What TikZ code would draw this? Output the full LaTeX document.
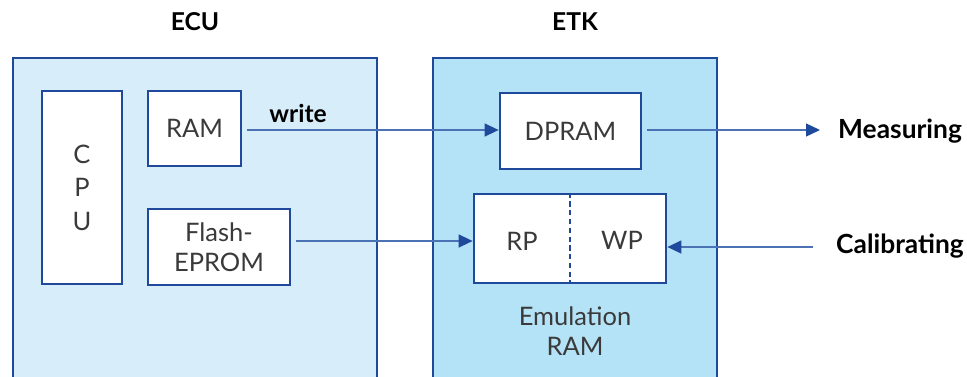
\documentclass[tikz,border=0pt]{standalone}
\usepackage{fontspec}
\setmainfont{Lato}
\usepackage{xcolor}
\usetikzlibrary{positioning,arrows.meta,calc}
\definecolor{frame}{HTML}{1F4A9B}
\definecolor{wire}{HTML}{4A72B5}
\definecolor{ecufill}{HTML}{D7EEFA}
\definecolor{etkfill}{HTML}{B4E3F7}
\definecolor{txt}{HTML}{3A3A3A}
\tikzset{
  unit/.style ={draw=frame, line width=1.3pt},
  blk/.style  ={draw=frame, fill=white, line width=1.6pt, inner sep=0pt, font=\fontsize{14.5}{17}\selectfont, text=txt, align=center},
  lbl/.style  ={font=\fontsize{14.5}{17}\selectfont, text=txt, align=center},
  head/.style ={font=\bfseries\fontsize{14}{17}\selectfont, text=black},
  side/.style ={font=\fontsize{15}{18}\selectfont\bfseries, text=black, anchor=west},
  flow/.style ={draw=wire, line width=0.8pt, -{Triangle[length=0.28cm,width=0.26cm,color=frame]}, shorten <=0.1cm},
}
\begin{document}
\begin{tikzpicture}[x=0.02cm,y=-0.02cm]
\useasboundingbox (0,0) rectangle (967,376);
\clip (0,0) rectangle (967,376);

% outer units
\fill[ecufill] (13,58) rectangle (377,400);
\fill[etkfill] (433,58) rectangle (717,400);
\draw[unit] (13,400) -- (13,58) -- (377,58) -- (377,400);
\draw[unit] (433,400) -- (433,58) -- (717,58) -- (717,400);
\node[head] (ecu) at (195,22) {ECU};
\node[head] (etk) at (575,22) {ETK};

% ECU blocks
\node[blk, minimum width=1.6cm, minimum height=3.86cm] (cpu) at (82,187.5) {C\\[2pt]P\\[2pt]U};
\node[blk, minimum width=1.86cm, minimum height=1.5cm] (ram) at (194.5,128.5) {RAM};
\node[blk, minimum width=2.84cm, minimum height=1.52cm] (flash) at (219,247) {Flash-\\EPROM};

% ETK blocks
\node[blk, minimum width=2.82cm, minimum height=1.52cm] (dpram) at (570.5,131) {DPRAM};
\node[blk, minimum width=3.84cm, minimum height=1.78cm] (emu) at (570,238.5) {};
\draw[frame, line width=1.2pt, dash pattern=on 3pt off 2pt] (emu.north -| 570,0) -- (emu.south -| 570,0);
\node[lbl] (rp) at (522,241) {RP};
\node[lbl] (wp) at (622,240) {WP};
\node[lbl] (emulab) at (575,331) {Emulation\\RAM};

% outside
\node[side] (meas) at (832,131) {Measuring};
\node[side] (cal) at (830,246) {Calibrating};
\coordinate (measin) at (820,130);
\coordinate (calout) at (813,247);

% connectors
\draw[flow] (ram.east |- 0,130) -- (dpram.west |- 0,130);
\node[font=\bfseries\fontsize{14}{17}\selectfont] (wr) at (298,113) {write};
\draw[flow] (flash.east |- 0,241) -- (emu.west |- 0,241);
\draw[flow] (dpram.east |- measin) -- (measin);
\draw[flow, shorten <=0pt] (calout) -- (emu.east |- calout);
\end{tikzpicture}
\end{document}
